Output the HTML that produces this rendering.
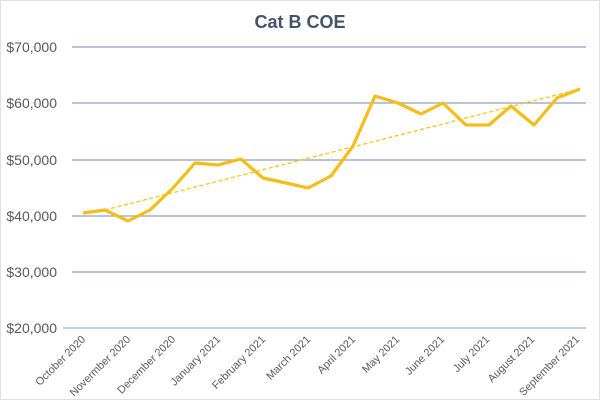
<!DOCTYPE html>
<html><head><style>body{margin:0;background:#fff}svg{display:block}</style></head><body>
<svg width="600" height="400" xmlns="http://www.w3.org/2000/svg" font-family="Liberation Sans, sans-serif">
<rect x="0.5" y="0.5" width="599" height="399" fill="#fff" stroke="#e0e0e0"/>
<text x="300" y="28" text-anchor="middle" font-size="18" font-weight="bold" fill="#44546a">Cat B COE</text>
<g stroke="#8ea0c8" stroke-width="1.3">
<line x1="72" y1="47" x2="586" y2="47"/><line x1="72" y1="103" x2="586" y2="103"/>
<line x1="72" y1="160" x2="586" y2="160"/><line x1="72" y1="216" x2="586" y2="216"/>
<line x1="72" y1="272" x2="586" y2="272"/><line x1="63" y1="328" x2="586" y2="328" stroke="#a5b0be"/>
</g>
<g font-size="14" fill="#595959" text-anchor="end">
<text x="57" y="52">$70,000</text><text x="57" y="108">$60,000</text><text x="57" y="165">$50,000</text>
<text x="57" y="221">$40,000</text><text x="57" y="277">$30,000</text><text x="57" y="333">$20,000</text>
</g>
<g font-size="10.8" fill="#595959" text-anchor="end">
<text transform="translate(86,340) rotate(-45)">October 2020</text>
<text transform="translate(131,340) rotate(-45)">Novermber 2020</text>
<text transform="translate(176,340) rotate(-45)">December 2020</text>
<text transform="translate(221,340) rotate(-45)">January 2021</text>
<text transform="translate(266,340) rotate(-45)">February 2021</text>
<text transform="translate(311,340) rotate(-45)">March 2021</text>
<text transform="translate(356,340) rotate(-45)">April 2021</text>
<text transform="translate(400,340) rotate(-45)">May 2021</text>
<text transform="translate(445,340) rotate(-45)">June 2021</text>
<text transform="translate(490,340) rotate(-45)">July 2021</text>
<text transform="translate(535,340) rotate(-45)">August 2021</text>
<text transform="translate(580,340) rotate(-45)">September 2021</text>
</g>
<line x1="105" y1="210" x2="580" y2="89" stroke="#f5c518" stroke-width="1.3" stroke-dasharray="4,2.5"/>
<polyline fill="none" stroke="#f5bd16" stroke-width="3.2" stroke-linejoin="round" points="83,213 105,210 128,221 150,210 173,188 195,163 218,165 241,159 263,178 286,183 308,188 331,176 353,146 375,96 398,103 421,114 443,103 466,125 489,125 511,106 534,125 557,98 580,89"/>
</svg>
</body></html>
